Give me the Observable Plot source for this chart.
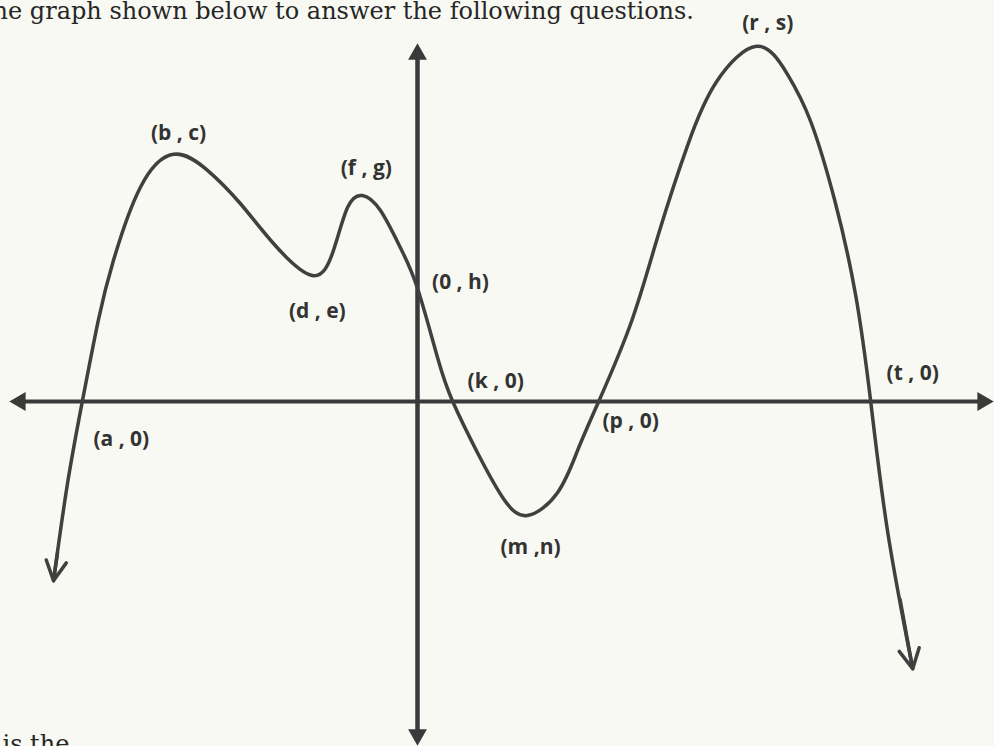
<!DOCTYPE html>
<html>
<head>
<meta charset="utf-8">
<script src="https://cdn.jsdelivr.net/npm/d3@7"></script>
<script src="https://cdn.jsdelivr.net/npm/@observablehq/plot@0.6"></script>
<style>
  html, body { margin: 0; padding: 0; background: #f8f9f2; }
  #chart { width: 994px; height: 746px; overflow: hidden; }
</style>
</head>
<body>
<div id="chart"></div>
<script>
// ---- data (graph units; origin at the axes' crossing) ----
const titleText = "he graph shown below to answer the following questions.";
const footText = "is the";

const curveX = [-9.1, -8.75, -8.38, -7.98, -7.6, -6.93, -6.1, -5.25, -4.43, -3.6, -2.63, -2.1, -1.75, -1.38, -0.93, -0.43, 0, 0.5, 0.88, 1.5, 2.15, 2.75, 3.5, 4.0, 4.53, 5.35, 6.03, 6.78, 7.48, 8.48, 9.25, 9.83, 10.43, 10.95, 11.33, 11.75, 12.38];
const curveY = [-4.48, -2.05, 0, 2.03, 3.53, 5.35, 6.18, 5.78, 4.95, 3.95, 3.15, 3.78, 4.85, 5.15, 4.78, 3.85, 2.83, 1.1, 0, -1.28, -2.43, -2.85, -2.28, -1.23, 0, 2.0, 4.2, 6.48, 8.0, 8.88, 8.18, 7.0, 5.03, 2.68, 0, -3.23, -6.68];

const pointLabels = ["(a , 0)", "(b , c)", "(d , e)", "(f , g)", "(0 , h)", "(k , 0)", "(m ,n)", "(p , 0)", "(r , s)", "(t , 0)"];
const pointX = [-8.38, -6.1, -2.63, -1.38, 0, 0.88, 2.75, 4.53, 8.48, 11.33];
const pointY = [0, 6.18, 3.15, 5.15, 2.83, 0, -2.85, 0, 8.88, 0];

const xAxisRange = [-10.2, 14.4];
const yAxisRange = [-8.6, 8.95];

// ---- layout / style ----
const ink = "#3a3a3a";
const labelOffsets = [[39, 38], [5, -21], [5, 36], [4, -27], [43, -6], [43, -20], [3, 32], [32, 20], [11, -23], [42, -28]];
const n = curveX.length;
const idx = d3.range(n);
const inset = 0.2;

const ends = [
  {x1: curveX[1], y1: curveY[1], x2: curveX[0], y2: curveY[0]},
  {x1: curveX[n - 2], y1: curveY[n - 2], x2: curveX[n - 1], y2: curveY[n - 1]}
];

const tri = (data, rotate, dx, dy) => Plot.dot(data, {
  x: d => d[0], y: d => d[1], symbol: "triangle", r: 7,
  fill: ink, stroke: "none", rotate, dx, dy
});

const labelMarks = pointLabels.map((t, i) => Plot.text([i], {
  x: j => pointX[j], y: j => pointY[j], text: j => pointLabels[j],
  dx: labelOffsets[i][0], dy: labelOffsets[i][1],
  fontFamily: "Open Sans", fontWeight: 700, fontSize: 21, fill: "#333",
  textAnchor: "middle", lineAnchor: "middle"
}));

const chart = Plot.plot({
  width: 994,
  height: 746,
  margin: 0,
  x: {domain: [-417 / 40, 577 / 40], axis: null},
  y: {domain: [-345 / 40, 401 / 40], axis: null},
  style: {background: "#f8f9f2", overflow: "hidden"},
  marks: [
    Plot.ruleY([0], {x1: xAxisRange[0] + inset, x2: xAxisRange[1] - inset, stroke: ink, strokeWidth: 4}),
    Plot.ruleX([0], {y1: yAxisRange[0] + inset, y2: yAxisRange[1] - inset, stroke: ink, strokeWidth: 4.5}),
    tri([[xAxisRange[1], 0]], 90, -10.7, 0),
    tri([[xAxisRange[0], 0]], -90, 10.7, 0),
    tri([[0, yAxisRange[1]]], 0, 0, 10.7),
    tri([[0, yAxisRange[0]]], 180, 0, -10.7),
    Plot.line(idx, {
      x: i => curveX[i], y: i => curveY[i], curve: "natural",
      stroke: "#404040", strokeWidth: 3.5, strokeLinecap: "round", strokeLinejoin: "round"
    }),
    Plot.arrow(ends, {
      x1: "x1", y1: "y1", x2: "x2", y2: "y2", insetStart: 70,
      stroke: "#404040", strokeWidth: 3.5, headLength: 9.4, headAngle: 55,
      strokeLinecap: "round", strokeLinejoin: "round"
    }),
    ...labelMarks,
    Plot.text([titleText], {
      frameAnchor: "top-left", dx: -8, dy: 18, lineAnchor: "bottom", textAnchor: "start",
      fontFamily: "DejaVu Serif", fontSize: 24, fill: "#262626", ariaLabel: "title"
    }),
    Plot.text([footText], {
      frameAnchor: "bottom-left", dx: 2, dy: 5, lineAnchor: "bottom", textAnchor: "start",
      fontFamily: "DejaVu Serif", fontSize: 24, fill: "#262626", ariaLabel: "foot"
    })
  ]
});

d3.select(chart).selectAll("g[aria-label=title] text")
  .attr("textLength", 705).attr("lengthAdjust", "spacingAndGlyphs");
d3.select(chart).selectAll("g[aria-label=foot] text")
  .attr("textLength", 70).attr("lengthAdjust", "spacingAndGlyphs");

document.getElementById("chart").appendChild(chart);
</script>
</body>
</html>
